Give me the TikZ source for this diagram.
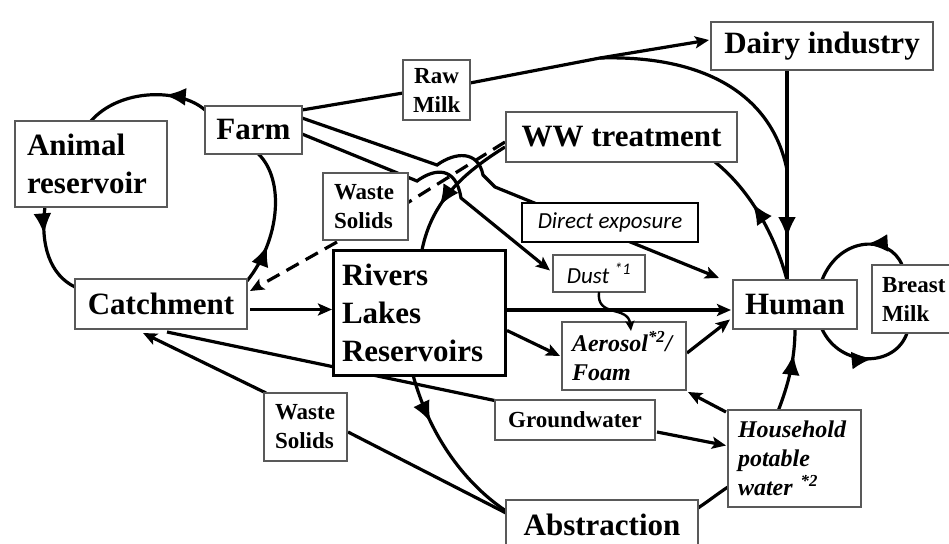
\documentclass[tikz,border=0pt]{standalone}
\usepackage{fontspec}
\setmainfont{Liberation Serif}
\newfontfamily\calibfont{Carlito}
\usetikzlibrary{arrows.meta,decorations.markings,calc,backgrounds}
\newcommand\fBig{\fontsize{31}{38}\selectfont\bfseries}
\newcommand\fSmall{\fontsize{23}{29}\selectfont\bfseries}
\newcommand\fBI{\fontsize{24}{29}\selectfont\bfseries\itshape}
\newcommand\fCal{\fontsize{23}{28}\selectfont\calibfont\itshape}
\tikzset{
  box/.style={draw=black!65, line width=1.4pt, fill=white, inner sep=0pt, outer sep=0pt},
  conn/.style={line width=3.2pt, black},
  tipend/.style={-{Stealth[length=14pt,width=12pt,inset=3pt]}},
  midtip/.style={postaction={decorate,decoration={markings,mark=at position #1 with {\arrow{Latex[length=21pt,width=18pt]}}}}},
  dsh/.style={dash pattern=on 14pt off 8pt},
}
\begin{document}
\begin{tikzpicture}[x=1pt,y=-1pt]
\useasboundingbox (0,0) rectangle (949,543);
% nodes
\node[box,minimum width=152pt,minimum height=86pt,inner xsep=12pt,text width=128pt,align=left,font=\fBig] (animal) at (91,164) {Animal\\reservoir};
\node[box,minimum width=97pt,minimum height=48pt,font=\fBig] (farm) at (253.5,130) {Farm};
\node[box,minimum height=60pt,inner xsep=10pt,text width=47pt,align=center,font=\fSmall] (rawmilk) at (436.5,90) {Raw\\Milk};
\node[box,minimum width=222pt,minimum height=48pt,font=\fBig] (dairy) at (822,46) {Dairy industry};
\node[box,minimum width=231pt,minimum height=50pt,font=\fBig] (ww) at (621.5,137) {WW treatment};
\node[box,minimum height=67pt,inner xsep=11pt,text width=63pt,align=left,font=\fSmall] (ws1) at (365.5,206.5) {Waste\\Solids};
\node[box,draw=black,line width=2.4pt,minimum width=176pt,minimum height=39pt,font=\fCal] (direct) at (610,222.5) {Direct exposure};
\node[box,minimum width=92pt,minimum height=37pt,font=\fCal] (dust) at (599,273.5) {Dust \textsuperscript{*1}};
\node[box,minimum width=172pt,minimum height=50pt,font=\fBig] (catch) at (161,304) {Catchment};
\node[box,draw=black,line width=3pt,minimum height=125pt,inner xsep=9pt,text width=154pt,align=left,font=\fBig] (rivers) at (419,312.5) {Rivers\\Lakes\\Reservoirs};
\node[box,minimum width=124pt,minimum height=49pt,font=\fBig] (human) at (795,304.5) {Human};
\node[box,minimum height=68pt,inner xsep=10pt,text width=70pt,align=left,font=\fSmall] (breast) at (917,299) {Breast\\Milk};
\node[box,minimum height=68pt,inner xsep=10pt,text width=104pt,align=left,font=\fBI] (aerosol) at (624,356) {Aerosol\textsuperscript{*2}/\\Foam};
\node[box,minimum width=160pt,minimum height=40pt,font=\fSmall] (ground) at (575,420) {Groundwater};
\node[box,minimum height=68pt,inner xsep=11pt,text width=61pt,align=left,font=\fSmall] (ws2) at (305.5,427) {Waste\\Solids};
\node[box,minimum height=97pt,inner xsep=10pt,text width=113pt,align=left,font=\fBI] (household) at (794.5,458.5) {Household\\potable\\water \textsuperscript{*2}};
\node[box,minimum width=192pt,minimum height=50pt,font=\fBig] (abstr) at (602,525) {Abstraction};

\begin{pgfonlayer}{background}
\fill[white] (0,0) rectangle (949,543);
% animal cycle
\draw[conn,midtip=0.35] ($(farm.north west)+(0,4)$) .. controls (180,88) and (120,88) .. (animal.north);
\draw[conn,midtip=0.3] ($(animal.south west)+(30,0)$) .. controls (40,245) and (50,275) .. ($(catch.north west)+(0,8)$);
\draw[conn,midtip=0.3] ($(catch.north east)+(0,2)$) .. controls (280,240) and (285,180) .. ($(farm.south)+(5,0)$);
% waste solids dashed
\draw[conn,dsh] ($(ww.west)+(-1,5)$) -- ($(ws1.east)+(0,-4)$);
\draw[conn,dsh,tipend] ($(ws1.south west)+(14,2)$) -- ($(catch.north east)+(3,12)$);
% ww -> rivers
\draw[conn,midtip=0.65] ($(ww.west)+(-1,10)$) .. controls (465,172) and (432,200) .. ($(rivers.north)+(3,0)$);
% raw milk
\coordinate (br) at (600,58);
\draw[conn] ($(farm.east)+(0,-20)$) -- ($(rawmilk.west)+(0,3)$);
\draw[conn,tipend] ($(rawmilk.east)+(0,-7)$) -- (br) -- ($(dairy.west)+(-2,-6)$);
\draw[conn] (br) .. controls (705,55) and (772,95) .. ($(dairy.south)+(-35,100)$);
% dairy -> human
\draw[conn,midtip=0.8] ($(dairy.south)+(-35,0)$) -- ($(human.north)+(-8,0)$);
% human -> ww
\draw[conn,midtip=0.6] ($(human.north)+(-8,0)$) .. controls (775,235) and (750,190) .. ($(ww.south east)+(-22,0)$);
% farm -> human (direct exposure)
\draw[conn,tipend] ($(farm.east)+(0,-12)$) -- (437,165) .. controls (455,152) and (478,150) .. (483,175) -- (495,187) -- ($(human.north west)+(-14,-2)$);
% farm -> dust
\draw[conn,tipend] ($(farm.east)+(0,4)$) -- (417,181) .. controls (435,168) and (456,166) .. (461,198) -- ($(dust.west)+(-3,-3)$);
% main flows
\draw[conn,tipend] ($(catch.east)+(3,5.5)$) -- ($(rivers.west)+(-1,-3)$);
\draw[conn,tipend] ($(rivers.east)+(0,-2.5)$) -- ($(human.west)+(-2,5.5)$);
\draw[conn,tipend] ($(rivers.east)+(2,18)$) -- ($(aerosol.west)+(-2,0)$);
\draw[conn,tipend] ($(aerosol.east)+(1,-3)$) -- ($(human.west)+(-3,15)$);
\draw[conn,tipend] ($(household.north west)+(-2,2)$) -- ($(aerosol.south east)+(2,2)$);
\draw[conn,midtip=0.7] ($(household.north)+(-16,0)$) .. controls (788,385) and (795,360) .. (human.south);
\draw[conn,tipend] ($(ground.east)+(2,12)$) -- ($(household.west)+(-2,-13)$);
\draw[conn] ($(ground.north west)+(2,1)$) -- ($(catch.south west)+(92,3)$);
\draw[conn,tipend] ($(ws2.north west)+(2,0)$) -- ($(catch.south west)+(68,4)$);
\draw[conn] ($(abstr.north west)+(0,13)$) -- ($(ws2.east)+(1,5)$);
\draw[conn,midtip=0.3] ($(rivers.south)+(-6,0)$) .. controls (428,430) and (460,480) .. ($(abstr.north west)+(0,11)$);
\draw[conn] ($(abstr.north east)+(0,8)$) .. controls (710,500) and (720,492) .. ($(household.south west)+(0,-20)$);
% breast milk loop
\draw[conn,midtip=0.42] ($(breast.north west)+(30,0)$) .. controls (890,235) and (840,235) .. ($(human.north east)+(-35,0)$);
\draw[conn,midtip=0.58] ($(human.south east)+(-35,0)$) .. controls (840,368) and (895,368) .. ($(breast.south west)+(35,0)$);
\end{pgfonlayer}
% dust -> aerosol (tip over the box)
\draw[conn,line width=2.4pt,-{Stealth[length=10pt,width=9pt,inset=2pt]}] (dust.south) .. controls (596,318) and (628,305) .. ($(aerosol.north)+(7,9)$);
\end{tikzpicture}
\end{document}
